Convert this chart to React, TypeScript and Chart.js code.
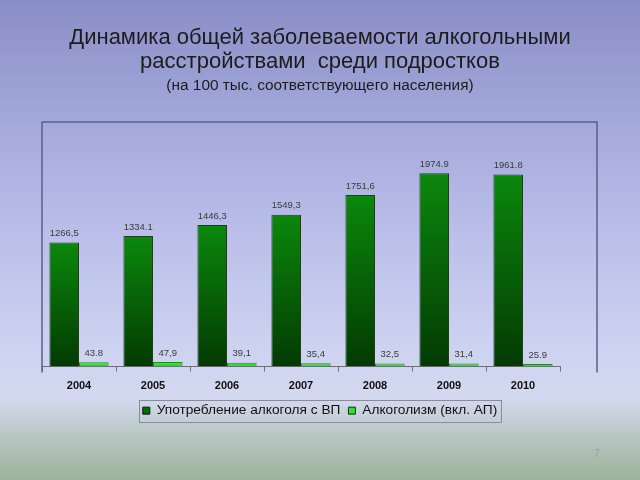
import React, { useEffect, useRef } from "react";
import { Chart, registerables } from "chart.js";

Chart.register(...registerables);

const years = ["2004", "2005", "2006", "2007", "2008", "2009", "2010"];
const useValues = [1266.5, 1334.1, 1446.3, 1549.3, 1751.6, 1974.9, 1961.8];
const useLabels = ["1266,5", "1334.1", "1446,3", "1549,3", "1751,6", "1974.9", "1961.8"];
const alcValues = [43.8, 47.9, 39.1, 35.4, 32.5, 31.4, 25.9];
const alcLabels = ["43.8", "47,9", "39,1", "35,4", "32,5", "31,4", "25.9"];
const seriesNames = ["Употребление алкоголя с ВП", "Алкоголизм (вкл. АП)"];
const titleLines = ["Динамика общей заболеваемости алкогольными", "расстройствами  среди подростков"];
const subtitleText = "(на 100 тыс. соответствующего населения)";
const pageNumber = "7";

const FONT = "'Liberation Sans', Arial, sans-serif";

function barGradient(ctx: any, top: string, bottom: string) {
  const chart = ctx.chart;
  if (!chart.chartArea || ctx.type !== "data" || !chart.scales || !chart.scales.y) return top;
  const yScale = chart.scales.y;
  const yTop = yScale.getPixelForValue(ctx.parsed ? ctx.parsed.y : 0);
  const yBot = yScale.getPixelForValue(0);
  if (!isFinite(yTop) || !isFinite(yBot) || yBot - yTop < 1) return top;
  const g = chart.ctx.createLinearGradient(0, yTop, 0, yBot);
  g.addColorStop(0, top);
  g.addColorStop(1, bottom);
  return g;
}

const labelsPlugin = {
  id: "valueLabels",
  afterDatasetsDraw(chart: any) {
    const ctx = chart.ctx;
    ctx.save();
    ctx.font = `9.5px ${FONT}`;
    ctx.fillStyle = "#3a3a3a";
    ctx.textAlign = "center";
    ctx.textBaseline = "middle";
    const lists = [useLabels, alcLabels];
    chart.data.datasets.forEach((_d: any, di: number) => {
      const meta = chart.getDatasetMeta(di);
      meta.data.forEach((el: any, i: number) => {
        ctx.fillText(lists[di][i], el.x, el.y - 9);
      });
    });
    ctx.restore();
  },
};

const framePlugin = {
  id: "frame",
  beforeDatasetsDraw(chart: any) {
    const { ctx, chartArea } = chart;
    const left = chartArea.left;
    const right = chartArea.right + 37;
    const top = chartArea.top - 9.5;
    const bottom = chartArea.bottom + 6;
    ctx.save();
    ctx.strokeStyle = "#5b6088";
    ctx.lineWidth = 1.5;
    ctx.beginPath();
    ctx.moveTo(left, bottom);
    ctx.lineTo(left, top);
    ctx.lineTo(right, top);
    ctx.lineTo(right, bottom);
    ctx.stroke();
    ctx.restore();
  },
  afterDraw(chart: any) {
    const ctx = chart.ctx;
    const hb = chart.legend && chart.legend.legendHitBoxes;
    ctx.save();
    if (hb && hb.length) {
      const first = hb[0];
      const last = hb[hb.length - 1];
      const l = first.left - 4;
      const r = last.left + last.width + 4;
      const t = first.top - 4;
      const h = first.height + 8;
      ctx.strokeStyle = "#8a8a98";
      ctx.lineWidth = 1;
      ctx.strokeRect(Math.round(l) + 0.5, Math.round(t) + 0.5, Math.round(r - l), Math.round(h));
    }
    ctx.font = `10px ${FONT}`;
    ctx.fillStyle = "#8f9ea6";
    ctx.textAlign = "center";
    ctx.textBaseline = "middle";
    ctx.fillText(pageNumber, 597, 454);
    ctx.restore();
  },
};

export default function App() {
  const ref = useRef<HTMLCanvasElement | null>(null);

  useEffect(() => {
    if (!ref.current) return;
    const chart = new Chart(ref.current, {
      type: "bar",
      data: {
        labels: years,
        datasets: [
          {
            label: seriesNames[0],
            data: useValues,
            backgroundColor: (c: any) => barGradient(c, "#0b880b", "#033a03"),
            borderColor: "#1d3d1d",
            borderWidth: 1,
          },
          {
            label: seriesNames[1],
            data: alcValues,
            backgroundColor: (c: any) => barGradient(c, "#48f048", "#22cc22"),
            borderColor: "#1f8a1f",
            borderWidth: 1,
          },
        ],
      },
      plugins: [labelsPlugin, framePlugin],
      options: {
        responsive: false,
        animation: false,
        devicePixelRatio: 1,
        layout: { padding: { left: 42, right: 42, top: 0, bottom: 52.5 } },
        datasets: {
          bar: { categoryPercentage: 0.8, barPercentage: 1 },
        },
        scales: {
          x: {
            grid: {
              display: true,
              drawOnChartArea: false,
              drawTicks: true,
              tickLength: 5,
              color: "#6f6f7a",
              offset: true,
            },
            border: { display: true, color: "#6f6f7a", width: 1 },
            ticks: {
              color: "#111",
              font: { family: FONT, size: 11, weight: "bold" },
              padding: 8,
            },
            afterFit: (s: any) => {
              s.height = s.height - 5;
            },
          },
          y: {
            position: "right",
            min: 0,
            max: 2400,
            grid: { display: false },
            border: { display: false },
            ticks: { display: false },
            afterFit: (s: any) => {
              s.width = 38;
            },
          },
        },
        plugins: {
          tooltip: { enabled: false },
          title: {
            display: true,
            text: titleLines,
            color: "#1c1c1c",
            font: { family: FONT, size: 22, weight: "normal", lineHeight: 1.1 },
            padding: { top: 26, bottom: 0 },
          },
          subtitle: {
            display: true,
            text: subtitleText,
            color: "#1c1c1c",
            font: { family: FONT, size: 15.4, weight: "normal", lineHeight: 1.2 },
            padding: { top: 2.4, bottom: 36.2 },
          },
          legend: {
            display: true,
            position: "bottom",
            labels: {
              boxWidth: 7,
              boxHeight: 7,
              padding: 8,
              color: "#111",
              font: { family: FONT, size: 13.7 },
              generateLabels: () => [
                {
                  text: seriesNames[0],
                  fillStyle: "#0b6b0b",
                  strokeStyle: "#0a1a0a",
                  lineWidth: 1,
                  datasetIndex: 0,
                  fontColor: "#111",
                },
                {
                  text: seriesNames[1],
                  fillStyle: "#33dd33",
                  strokeStyle: "#0a3a0a",
                  lineWidth: 1,
                  datasetIndex: 1,
                  fontColor: "#111",
                },
              ],
            },
          },
        },
      },
    } as any);
    return () => chart.destroy();
  }, []);

  return (
    <div
      style={{
        position: "absolute",
        left: 0,
        top: 0,
        width: 640,
        height: 480,
        background:
          "linear-gradient(to bottom, #8a8ec6 0%, #a3a8da 25%, #bcc0ea 50%, #cdd2f1 72%, #d3d9ef 83%, #b8c6c2 91%, #9db29a 100%)",
        overflow: "hidden",
      }}
    >
      <canvas ref={ref} width={640} height={480} style={{ display: "block", width: 640, height: 480 }} />
    </div>
  );
}
